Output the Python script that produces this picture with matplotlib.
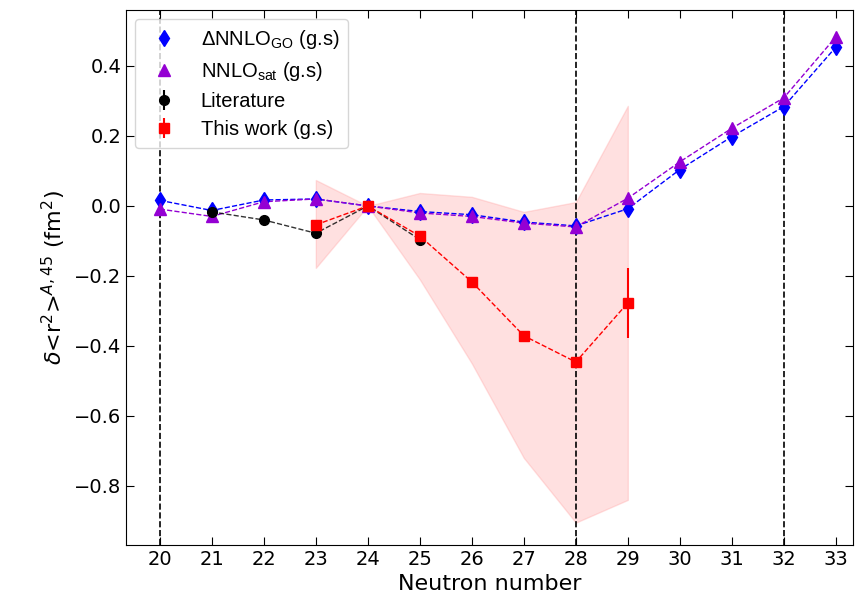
import matplotlib
matplotlib.use("Agg")
import matplotlib.pyplot as plt
import numpy as np

N = [20, 21, 22, 23, 24, 25, 26, 27, 28, 29, 30, 31, 32, 33]
go_vals = [0.016, -0.013, 0.017, 0.02, 0.0, -0.016, -0.025, -0.046, -0.057, -0.008, 0.104, 0.198, 0.284, 0.454]
sat_vals = [-0.009, -0.03, 0.012, 0.02, 0.0, -0.02, -0.03, -0.049, -0.06, 0.022, 0.126, 0.222, 0.309, 0.483]

lit_N = [21, 22, 23, 24, 25]
lit_vals = [-0.017, -0.04, -0.078, 0.0, -0.096]
lit_err = [0.012, 0.004, 0.004, 0.0, 0.004]

tw_N = [23, 24, 25, 26, 27, 28, 29]
tw_vals = [-0.054, 0.0, -0.086, -0.217, -0.371, -0.446, -0.277]
tw_err = [0.0, 0.0, 0.0, 0.0, 0.0, 0.0, 0.1]
band_low = [-0.177, 0.0, -0.21, -0.45, -0.72, -0.905, -0.84]
band_high = [0.074, 0.0, 0.037, 0.026, -0.017, 0.011, 0.286]

vlines = [20, 28, 32]

fig = plt.figure(figsize=(8.56, 6.05), dpi=100)
ax = fig.add_axes([126/856, 1-545/605, (853-126)/856, (545-10)/605])

ax.fill_between(tw_N, band_low, band_high, color='#ff9999', alpha=0.3, lw=1)

for v in vlines:
    ax.axvline(v, color='black', ls='--', lw=1.2, zorder=1)

ax.plot(N, go_vals, '--', color='blue', lw=1, zorder=2)
ax.plot(N, sat_vals, '--', color='darkviolet', lw=1, zorder=2)
ax.plot(lit_N, lit_vals, '--', color='black', lw=1, alpha=0.8, zorder=2)
ax.plot(tw_N, tw_vals, '--', color='red', lw=1, zorder=2)

ax.plot(N, go_vals, 'd', color='blue', ms=8, ls='none',
        label=r'$\mathregular{\Delta}$NNLO$\mathregular{_{GO}}$ (g.s)', zorder=3)
ax.plot(N, sat_vals, '^', color='darkviolet', ms=8, ls='none',
        label=r'NNLO$\mathregular{_{sat}}$ (g.s)', zorder=3)
ax.errorbar(lit_N, lit_vals, yerr=lit_err, fmt='o', color='black', ms=7, label='Literature', zorder=3)
ax.errorbar(tw_N, tw_vals, yerr=tw_err, fmt='s', color='red', ms=7, label='This work (g.s)', zorder=4)

ax.set_xlim(19.35, 33.33)
ax.set_ylim(-0.969, 0.56)
ax.set_xticks(N)
ax.set_yticks([-0.8, -0.6, -0.4, -0.2, 0.0, 0.2, 0.4])
ax.tick_params(direction='in', top=True, right=True, labelsize=14, length=6)
ax.set_xlabel('Neutron number', fontsize=16)
ax.set_ylabel(r'$\delta$<r$^2$>$^{A,45}$ (fm$^2$)', fontsize=16)
ax.legend(loc='upper left', prop={'family': 'Liberation Sans', 'size': 14.5},
          labelspacing=0.45, borderpad=0.45, borderaxespad=0.45)

fig.savefig('out.png', dpi=100)
